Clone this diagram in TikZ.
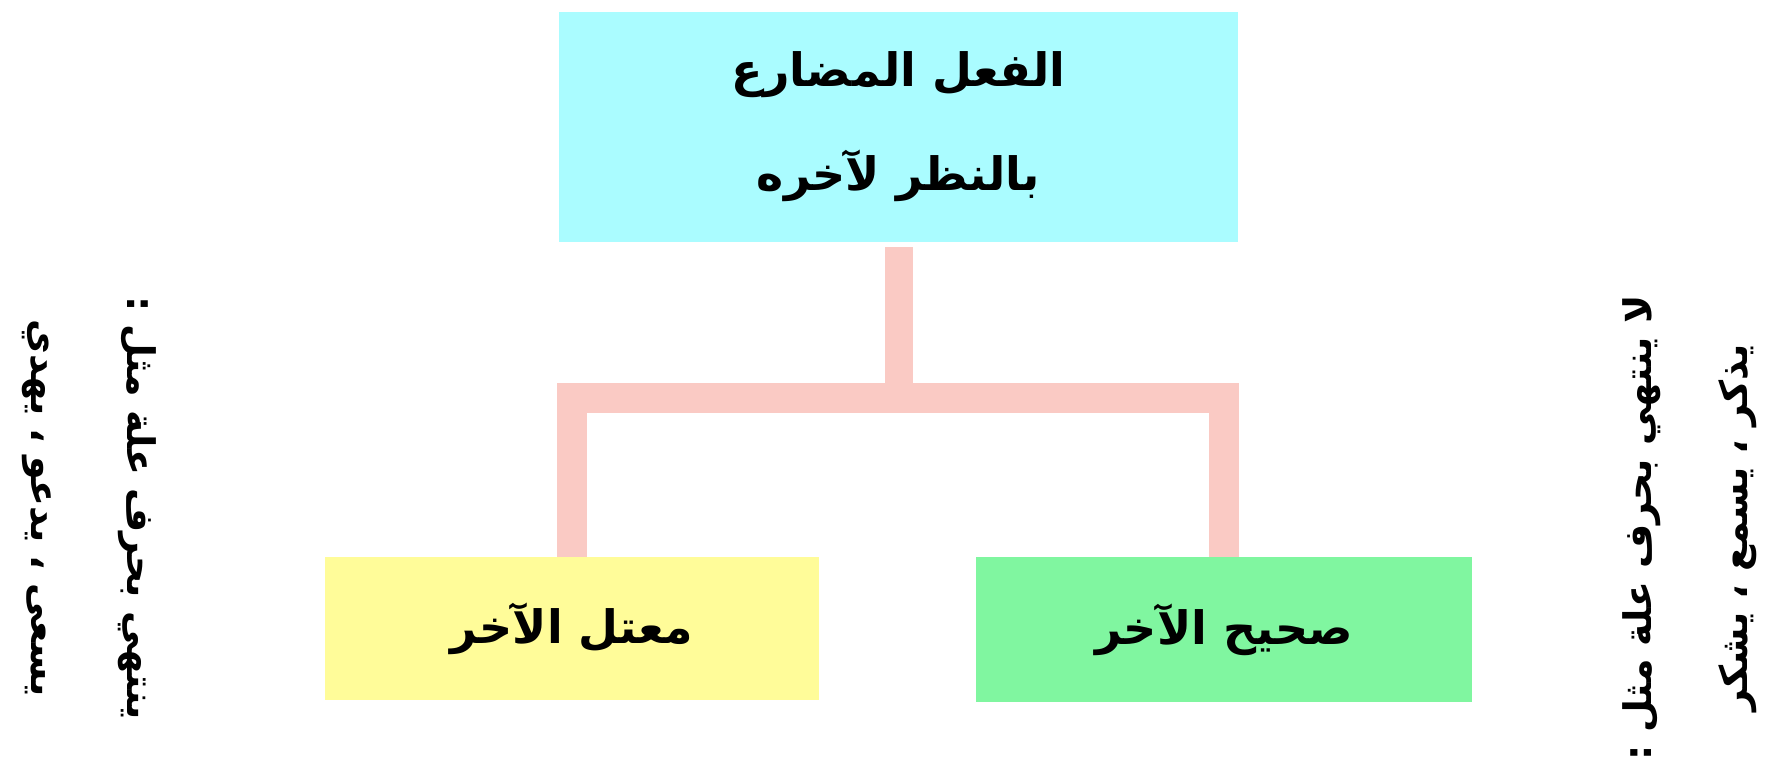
\documentclass[tikz,border=0pt]{standalone}
\usepackage{fontspec}
\newfontfamily\arabicfont[Script=Arabic]{DejaVu Sans}
\TeXXeTstate=1
\definecolor{cyanbox}{RGB}{170,252,255}
\definecolor{yellowbox}{RGB}{255,252,153}
\definecolor{greenbox}{RGB}{128,246,160}
\definecolor{pinkline}{RGB}{250,202,196}
\tikzset{
  box/.style={fill=#1, draw=none, inner sep=0pt, align=center, font=\arabicfont\bfseries\fontsize{46}{104}\selectfont},
  conn/.style={draw=pinkline, line width=30pt, line join=miter, line cap=butt},
  stemline/.style={draw=pinkline, line width=28pt, line cap=butt},
  side/.style={inner sep=0pt, align=center, font=\arabicfont\bfseries\fontsize{38}{96}\selectfont}
}
\begin{document}
\begin{tikzpicture}[x=1pt,y=-1pt]
\useasboundingbox (0,0) rectangle (1776,766);
\node[box=cyanbox, minimum width=679pt, minimum height=230pt] (top) at (898.5,127)
  {\beginR الفعل المضارع\endR\\\beginR بالنظر لآخره\endR};
\node[box=yellowbox, minimum width=494pt, minimum height=143pt] (yel) at (572,628.5)
  {\beginR معتل الآخر\endR};
\node[box=greenbox, minimum width=496pt, minimum height=145pt] (grn) at (1224,629.5)
  {\beginR صحيح الآخر\endR};
\coordinate (bar) at (898.5,398);
\draw[stemline] ([yshift=-5pt]top.south) -- (top.south |- bar);
\draw[conn] (yel.north) -- (yel.north |- bar) -- (grn.north |- bar) -- (grn.north);
\node[side, rotate=-90] (leftnote) at (89,508)
  {\beginR ينتهي بحرف علة مثل :\endR\\\beginR يسعى ، يدعو ، يهدي\endR};
\node[side, rotate=90] (rightnote) at (1690,528)
  {\beginR لا ينتهي بحرف علة مثل :\endR\\\beginR يذكر ، يسمع ، يشكر\endR};
\end{tikzpicture}
\end{document}
